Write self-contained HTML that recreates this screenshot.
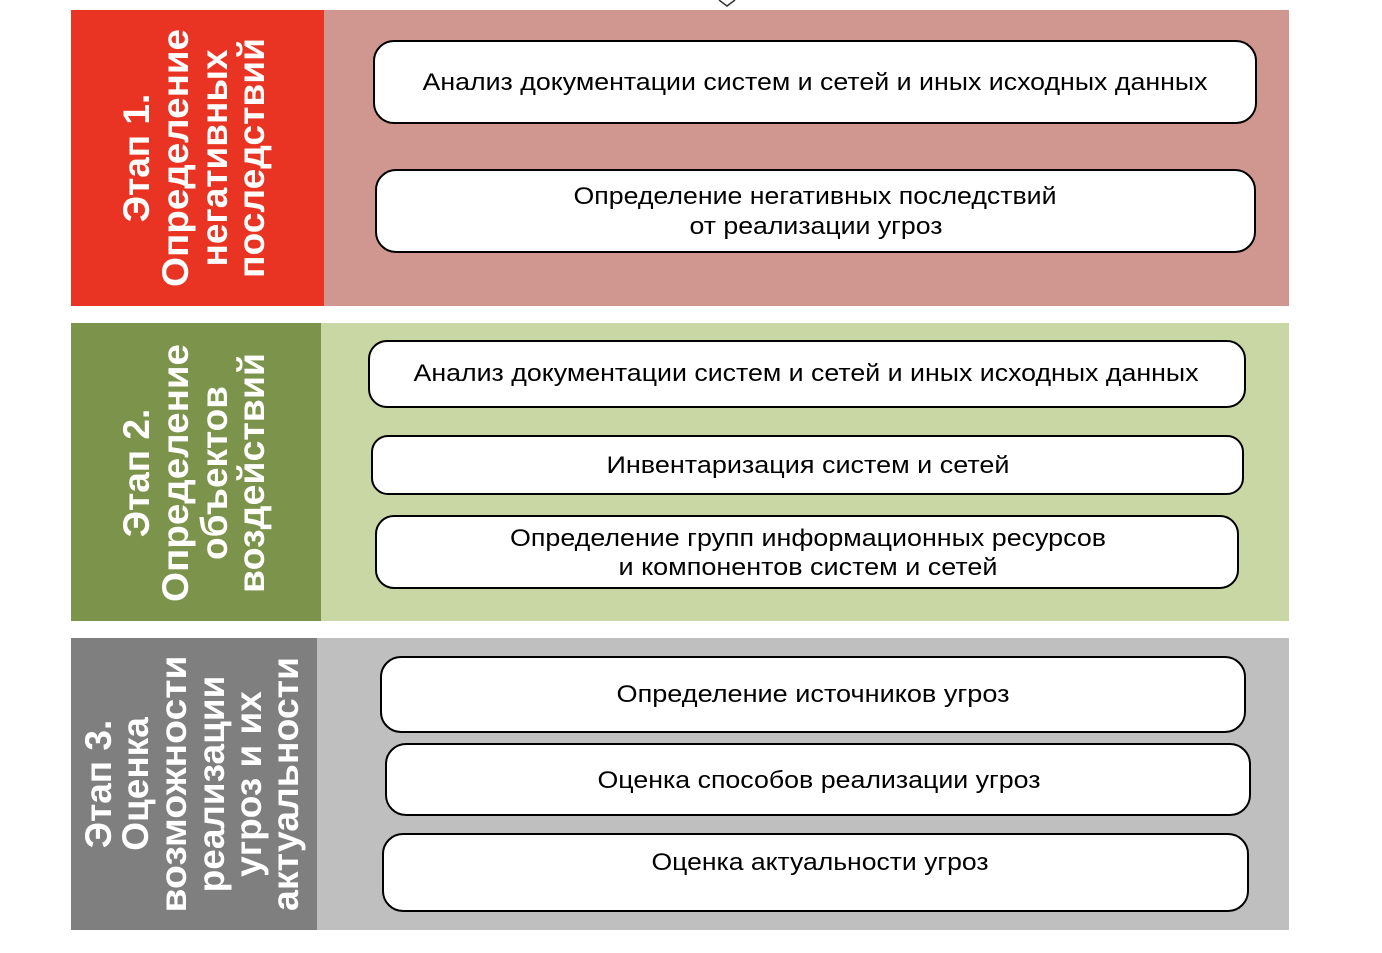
<!DOCTYPE html>
<html><head><meta charset="utf-8"><style>html,body{margin:0;padding:0;background:#fff}</style></head>
<body>
<svg width="1382" height="948" xmlns="http://www.w3.org/2000/svg" font-family="Liberation Sans, sans-serif">
<polyline points="719,0 727,6 735,0" fill="none" stroke="#333" stroke-width="1.5"/>
<rect x="71" y="10" width="1218" height="296" fill="#cf9790"/>
<rect x="71" y="10" width="253" height="296" fill="#e93424"/>
<rect x="71" y="323" width="1218" height="298" fill="#c8d7a4"/>
<rect x="71" y="323" width="250" height="298" fill="#7c934b"/>
<rect x="71" y="638" width="1218" height="292" fill="#bfbfbf"/>
<rect x="71" y="638" width="246" height="292" fill="#7f7f7f"/>
<g fill="#fff" font-weight="bold" font-size="37" text-anchor="middle">
<g transform="translate(197,158) rotate(-90)">
<text x="0" y="-48">Этап 1.</text>
<text x="0" y="-9" textLength="258" lengthAdjust="spacingAndGlyphs">Определение</text>
<text x="0" y="30">негативных</text>
<text x="0" y="67" textLength="240" lengthAdjust="spacingAndGlyphs">последствий</text>
</g>
<g transform="translate(197,473) rotate(-90)">
<text x="0" y="-48">Этап 2.</text>
<text x="0" y="-9" textLength="258" lengthAdjust="spacingAndGlyphs">Определение</text>
<text x="0" y="30">объектов</text>
<text x="0" y="67" textLength="240" lengthAdjust="spacingAndGlyphs">воздействий</text>
</g>
<g transform="translate(190,784) rotate(-90)">
<text x="0" y="-79">Этап 3.</text>
<text x="0" y="-42">Оценка</text>
<text x="0" y="-4" textLength="257" lengthAdjust="spacingAndGlyphs">возможности</text>
<text x="0" y="34">реализации</text>
<text x="0" y="71">угроз и их</text>
<text x="0" y="108" textLength="254" lengthAdjust="spacingAndGlyphs">актуальности</text>
</g>
</g>
<g fill="#fff" stroke="#000" stroke-width="2">
<rect x="374" y="41" width="882" height="82" rx="20"/>
<rect x="376" y="170" width="879" height="82" rx="20"/>
<rect x="369" y="341" width="876" height="66" rx="18"/>
<rect x="372" y="436" width="871" height="58" rx="16"/>
<rect x="376" y="516" width="862" height="72" rx="18"/>
<rect x="381" y="657" width="864" height="75" rx="20"/>
<rect x="386" y="744" width="864" height="71" rx="20"/>
<rect x="383" y="834" width="865" height="77" rx="20"/>
</g>
<g fill="#000" font-size="24" text-anchor="middle" lengthAdjust="spacingAndGlyphs">
<text x="815" y="90" textLength="785" lengthAdjust="spacingAndGlyphs">Анализ документации систем и сетей и иных исходных данных</text>
<text x="815" y="204" textLength="483" lengthAdjust="spacingAndGlyphs">Определение негативных последствий</text>
<text x="816" y="234" textLength="253" lengthAdjust="spacingAndGlyphs">от реализации угроз</text>
<text x="806" y="381" textLength="785" lengthAdjust="spacingAndGlyphs">Анализ документации систем и сетей и иных исходных данных</text>
<text x="808" y="473" textLength="403" lengthAdjust="spacingAndGlyphs">Инвентаризация  систем и сетей</text>
<text x="808" y="546" textLength="596" lengthAdjust="spacingAndGlyphs">Определение групп информационных ресурсов</text>
<text x="808" y="575" textLength="379" lengthAdjust="spacingAndGlyphs">и компонентов систем и сетей</text>
<text x="813" y="702" textLength="393" lengthAdjust="spacingAndGlyphs">Определение источников угроз</text>
<text x="819" y="788" textLength="443" lengthAdjust="spacingAndGlyphs">Оценка способов реализации угроз</text>
<text x="820" y="870" textLength="337" lengthAdjust="spacingAndGlyphs">Оценка актуальности угроз</text>
</g>
</svg>
</body></html>
